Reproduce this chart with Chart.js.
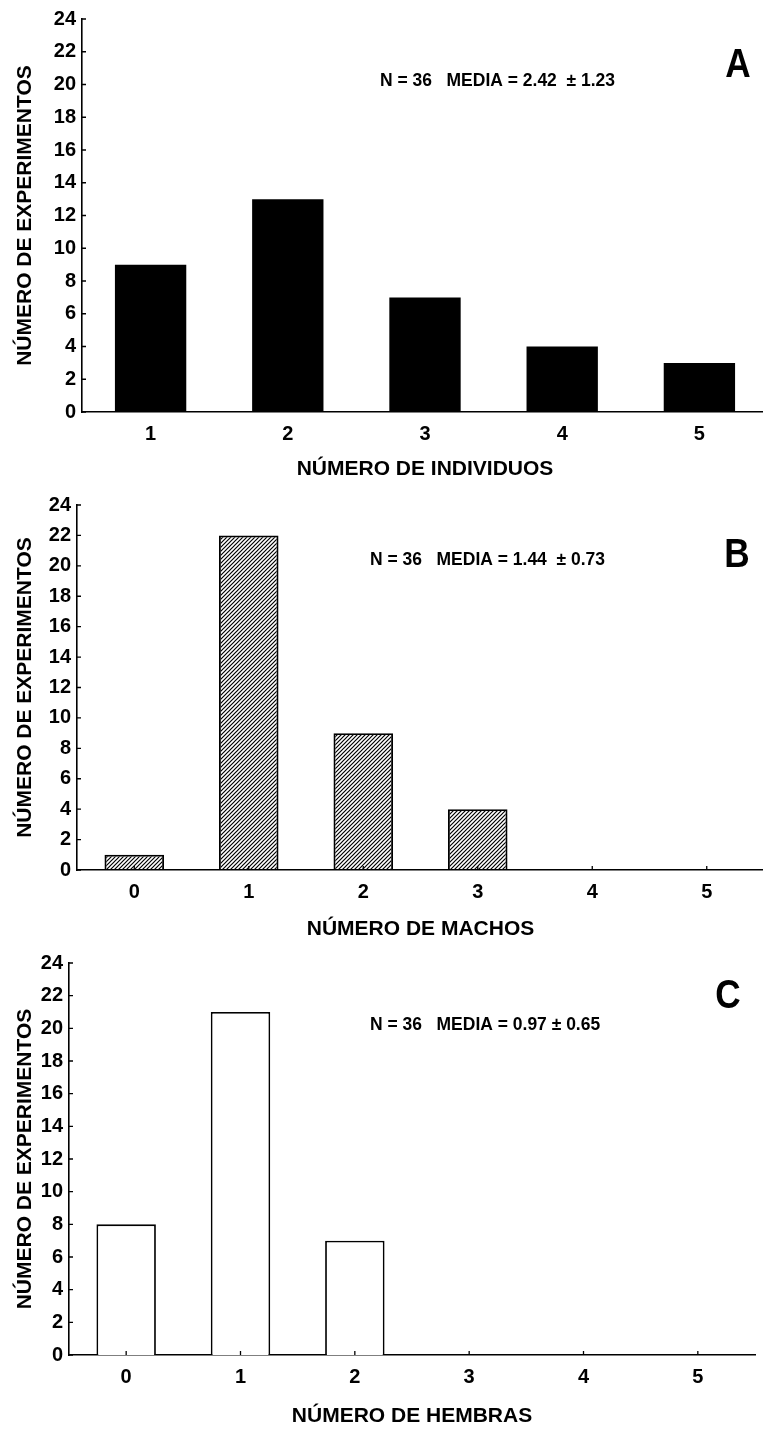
<!DOCTYPE html>
<html>
<head>
<meta charset="utf-8">
<script src="https://cdn.jsdelivr.net/npm/chart.js@4/dist/chart.umd.min.js"></script>
<style>
  html, body { margin: 0; padding: 0; background: #fff; overflow: hidden; }
  .panel { position: absolute; left: 0; }
</style>
</head>
<body>
<div class="panel" style="top:0px"><canvas id="chartA"></canvas></div>
<div class="panel" style="top:480px"><canvas id="chartB"></canvas></div>
<div class="panel" style="top:940px"><canvas id="chartC"></canvas></div>
<script>
// datos
const individuosLabels = ['1', '2', '3', '4', '5'];
const individuosValues = [9, 13, 7, 4, 3];

const machosLabels = ['0', '1', '2', '3', '4', '5'];
const machosValues = [1, 22, 9, 4, 0, 0];

const hembrasLabels = ['0', '1', '2', '3', '4', '5'];
const hembrasValues = [8, 21, 7, 0, 0, 0];

const yMin = 0;
const yMax = 24;
const yStep = 2;

const yTitle = 'NÚMERO DE EXPERIMENTOS';
const xTitles = ['NÚMERO DE INDIVIDUOS', 'NÚMERO DE MACHOS', 'NÚMERO DE HEMBRAS'];
const statsTexts = [
  'N = 36   MEDIA = 2.42  \u00B1 1.23',
  'N = 36   MEDIA = 1.44  \u00B1 0.73',
  'N = 36   MEDIA = 0.97 \u00B1 0.65'
];
const panelLetters = ['A', 'B', 'C'];

// relleno rayado para el panel B
function makeHatch() {
  const c = document.createElement('canvas');
  c.width = 4;
  c.height = 4;
  const g = c.getContext('2d');
  g.strokeStyle = '#000';
  g.lineWidth = 1.2;
  g.beginPath();
  g.moveTo(0, 4); g.lineTo(4, 0);
  g.moveTo(-1, 1); g.lineTo(1, -1);
  g.moveTo(3, 5); g.lineTo(5, 3);
  g.stroke();
  return g.createPattern(c, 'repeat');
}

const FONT = '"Liberation Sans", Arial, Helvetica, sans-serif';

// marcas hacia dentro + textos de cada panel
const extrasPlugin = {
  id: 'extras',
  afterDraw(chart, args, opts) {
    const { ctx, chartArea, scales } = chart;
    ctx.save();
    ctx.strokeStyle = '#000';
    ctx.lineWidth = 1.3;
    ctx.beginPath();
    scales.y.ticks.forEach((t, i) => {
      const py = scales.y.getPixelForTick(i);
      ctx.moveTo(chartArea.left, py);
      ctx.lineTo(chartArea.left + 4, py);
    });
    scales.x.ticks.forEach((t, i) => {
      const px = scales.x.getPixelForTick(i);
      ctx.moveTo(px, chartArea.bottom);
      ctx.lineTo(px, chartArea.bottom - 4);
    });
    ctx.stroke();

    ctx.fillStyle = '#000';
    ctx.textBaseline = 'middle';
    ctx.textAlign = 'left';
    ctx.save();
    ctx.translate(opts.statsX, opts.statsY);
    ctx.scale(0.92, 1);
    ctx.font = 'bold 19px ' + FONT;
    ctx.fillText(opts.stats, 0, 0);
    ctx.restore();

    ctx.save();
    ctx.translate(opts.letterX, opts.letterY);
    ctx.scale(0.88, 1);
    ctx.textAlign = 'center';
    ctx.font = 'bold 40px ' + FONT;
    ctx.fillText(opts.letter, 0, 0);
    ctx.restore();
    ctx.restore();
  }
};

function makeChart(id, labels, values, fill, border, p) {
  const canvas = document.getElementById(id);
  return new Chart(canvas, {
    type: 'bar',
    data: {
      labels: labels,
      datasets: [{
        data: values,
        backgroundColor: fill,
        borderColor: '#000',
        borderWidth: border,
        categoryPercentage: 1,
        barPercentage: 0.52
      }]
    },
    options: {
      responsive: false,
      animation: false,
      events: [],
      layout: {
        padding: { left: 0, top: p.plotTop, right: p.width - p.right, bottom: 0 }
      },
      scales: {
        x: {
          offset: true,
          grid: { display: false, drawTicks: false },
          border: { display: true, color: '#000', width: 1.6 },
          ticks: { color: '#000', padding: 10, font: { family: FONT, size: 20, weight: 'bold' } },
          title: {
            display: true,
            text: p.xTitle,
            color: '#000',
            padding: { top: 0, bottom: p.titlePad },
            font: { family: FONT, size: 21, weight: 'bold', lineHeight: 1 }
          },
          afterFit(scale) { scale.height = p.height - p.plotBottom; }
        },
        y: {
          min: yMin,
          max: yMax,
          grid: { display: false, drawTicks: false },
          border: { display: true, color: '#000', width: 1.6 },
          ticks: { stepSize: yStep, color: '#000', padding: 6, font: { family: FONT, size: 20, weight: 'bold' } },
          title: {
            display: true,
            text: yTitle,
            color: '#000',
            padding: { top: 15, bottom: 0 },
            font: { family: FONT, size: 21, weight: 'bold', lineHeight: 1 }
          },
          afterFit(scale) { scale.width = p.left; }
        }
      },
      plugins: {
        legend: { display: false },
        tooltip: { enabled: false },
        extras: {
          stats: p.stats, statsX: p.statsX, statsY: p.statsY,
          letter: p.letter, letterX: p.letterX, letterY: p.letterY
        }
      }
    },
    plugins: [extrasPlugin]
  });
}

function setSize(id, w, h) {
  const c = document.getElementById(id);
  c.width = w; c.height = h;
  c.style.width = w + 'px'; c.style.height = h + 'px';
}

setSize('chartA', 770, 480);
setSize('chartB', 770, 460);
setSize('chartC', 770, 491);

makeChart('chartA', individuosLabels, individuosValues, '#000', 0, {
  width: 770, height: 480, left: 82, right: 768, plotTop: 19, plotBottom: 412,
  xTitle: xTitles[0], titlePad: 0,
  stats: statsTexts[0], statsX: 380, statsY: 81,
  letter: panelLetters[0], letterX: 738, letterY: 66
});

makeChart('chartB', machosLabels, machosValues, makeHatch(), 1.8, {
  width: 770, height: 460, left: 77, right: 764, plotTop: 25, plotBottom: 390,
  xTitle: xTitles[1], titlePad: 0,
  stats: statsTexts[1], statsX: 370, statsY: 80,
  letter: panelLetters[1], letterX: 737, letterY: 76
});

makeChart('chartC', hembrasLabels, hembrasValues, '#fff', 1.8, {
  width: 770, height: 491, left: 69, right: 755, plotTop: 23, plotBottom: 415,
  xTitle: xTitles[2], titlePad: 4,
  stats: statsTexts[2], statsX: 370, statsY: 85,
  letter: panelLetters[2], letterX: 728, letterY: 57
});
</script>
</body>
</html>
